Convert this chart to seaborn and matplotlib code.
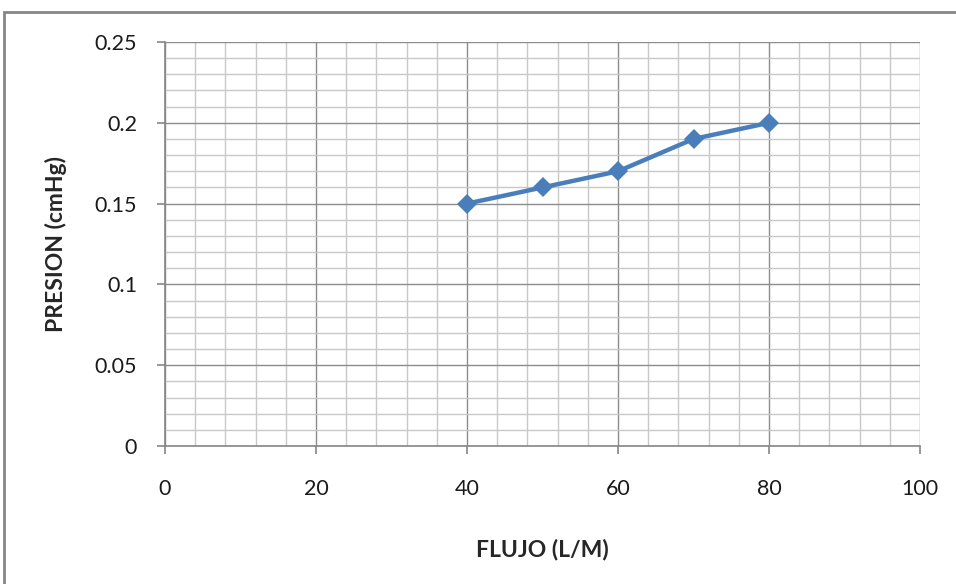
import matplotlib
matplotlib.use("Agg")
import matplotlib.pyplot as plt
import seaborn as sns
import pandas as pd
import numpy as np
from matplotlib.patches import Rectangle
from matplotlib.ticker import MultipleLocator

flujo = [40, 50, 60, 70, 80]
presion = [0.15, 0.16, 0.17, 0.19, 0.20]
x_ticks = [0, 20, 40, 60, 80, 100]
y_ticks = [0, 0.05, 0.1, 0.15, 0.2, 0.25]
y_tick_labels = ["0", "0.05", "0.1", "0.15", "0.2", "0.25"]

sns.set_theme(style="white")
plt.rcParams['font.family'] = ['Lato', 'DejaVu Sans']

W, H = 956, 584
fig = plt.figure(figsize=(W/100, H/100), dpi=100)
ax = fig.add_axes([165/W, 1-446/H, (920-165)/W, (446-42)/H])

df = pd.DataFrame({"FLUJO": flujo, "PRESION": presion})
sns.lineplot(data=df, x="FLUJO", y="PRESION", ax=ax, color="#4A7EBB",
             linewidth=3.2, marker="D", markersize=10, markeredgewidth=0,
             zorder=5)

ax.set_xlim(0, 100)
ax.set_ylim(0, 0.25)
ax.set_xticks(x_ticks)
ax.set_yticks(y_ticks)
ax.set_yticklabels(y_tick_labels)
ax.xaxis.set_minor_locator(MultipleLocator(4))
ax.yaxis.set_minor_locator(MultipleLocator(0.01))
ax.grid(which="major", color="#8C8C8C", linewidth=1.0)
ax.grid(which="minor", color="#C8C8C8", linewidth=1.0)
ax.set_axisbelow(True)
for s in ["top", "right"]:
    ax.spines[s].set_visible(False)
for s in ["left", "bottom"]:
    ax.spines[s].set_color("#868686")
    ax.spines[s].set_linewidth(1.2)
ax.tick_params(which="major", direction="out", length=6, width=1.2,
               color="#868686", labelsize=15.5, labelcolor="#1a1a1a", pad=14,
               left=True, bottom=True)
ax.tick_params(which="minor", length=0)
ax.tick_params(axis="x", pad=18)

ax.set_xlabel("FLUJO (L/M)", fontsize=16.5, fontweight="bold", labelpad=28)
ax.set_ylabel("PRESION (cmHg)", fontsize=16.5, fontweight="bold", labelpad=20)

fig.patches.append(Rectangle((4/W, -0.1), 1.2, 1-12/H+0.1, transform=fig.transFigure,
                             fill=False, edgecolor="#868686", linewidth=2, zorder=0))

fig.savefig("out.png", dpi=100)
